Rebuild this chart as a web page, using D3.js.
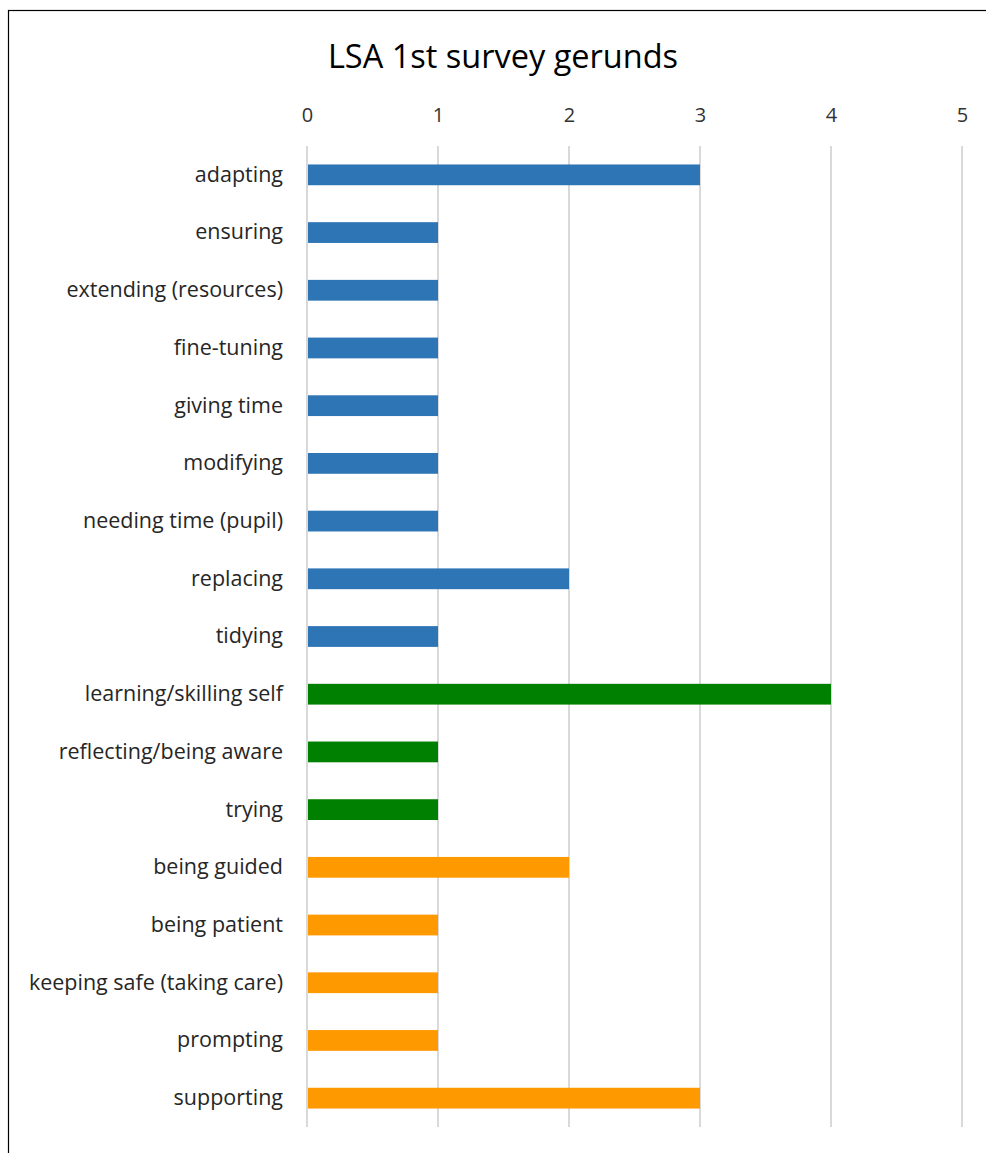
<!DOCTYPE html>
<html>
<head>
<meta charset="utf-8">
<script src="https://cdn.jsdelivr.net/npm/d3@7"></script>
<style>
  body { margin: 0; background: #fff; }
  svg text { font-family: "Open Sans", sans-serif; }
</style>
</head>
<body>
<svg id="chart" width="986" height="1153"></svg>
<script>
// chart values
var categories = [
  "adapting", "ensuring", "extending (resources)", "fine-tuning", "giving time",
  "modifying", "needing time (pupil)", "replacing", "tidying",
  "learning/skilling self", "reflecting/being aware", "trying",
  "being guided", "being patient", "keeping safe (taking care)", "prompting", "supporting"
]
var values = [3, 1, 1, 1, 1, 1, 1, 2, 1, 4, 1, 1, 2, 1, 1, 1, 3]
var groups = ["a", "a", "a", "a", "a", "a", "a", "a", "a", "b", "b", "b", "c", "c", "c", "c", "c"]
var groupColors = { a: "#2E75B6", b: "#008000", c: "#FF9900" }
var tickValues = [0, 1, 2, 3, 4, 5]
var title = "LSA 1st survey gerunds"

var svg = d3.select("#chart")

// outer frame
svg.append("rect")
  .attr("x", 8.5)
  .attr("y", 10.5)
  .attr("width", 1000)
  .attr("height", 1200)
  .attr("fill", "white")
  .attr("stroke", "#000")
  .attr("stroke-width", 1.2)

var x = d3.scaleLinear().domain([0, 5]).range([307, 962])
var y = d3.scaleBand().domain(categories).range([146, 1127])
  .paddingInner(0.64).paddingOuter(0.32)

var data = categories.map(function(c, i) {
  return { name: c, value: values[i], group: groups[i] }
})

// title
svg.append("text")
  .attr("x", 503)
  .attr("y", 68)
  .attr("text-anchor", "middle")
  .attr("font-size", 32.5)
  .attr("fill", "#000")
  .text(title)

// gridlines
svg.selectAll(".grid")
  .data(tickValues)
.enter().append("line")
  .attr("class", "grid")
  .attr("x1", function(d) { return x(d) })
  .attr("x2", function(d) { return x(d) })
  .attr("y1", 146)
  .attr("y2", 1127)
  .attr("stroke", "#d9d9d9")
  .attr("stroke-width", 2)

// top axis labels
var xAxis = d3.axisTop(x).tickValues(tickValues).tickFormat(d3.format("d"))
  .tickSize(0).tickPadding(0)
var gx = svg.append("g")
  .attr("transform", "translate(0,122)")
  .call(xAxis)
gx.select(".domain").remove()
gx.selectAll("text")
  .attr("font-size", 20)
  .attr("fill", "#333")
  .attr("dy", 0)

// bars
svg.selectAll(".bar")
  .data(data)
.enter().append("rect")
  .attr("class", "bar")
  .attr("x", x(0) + 1)
  .attr("y", function(d) { return y(d.name) })
  .attr("width", function(d) { return x(d.value) - x(0) - 1 })
  .attr("height", y.bandwidth())
  .attr("fill", function(d) { return groupColors[d.group] })

// category labels
var yAxis = d3.axisLeft(y).tickSize(0).tickPadding(0)
var gy = svg.append("g")
  .attr("transform", "translate(283,0)")
  .call(yAxis)
gy.select(".domain").remove()
gy.selectAll("text")
  .attr("font-size", 21.5)
  .attr("fill", "#262626")
</script>
</body>
</html>
